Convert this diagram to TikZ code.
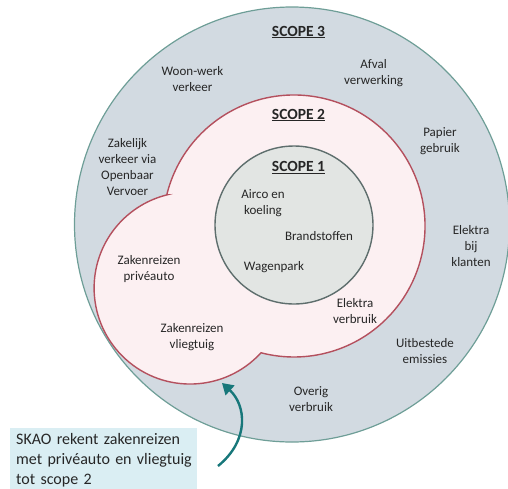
\documentclass[tikz,border=0pt]{standalone}
\usepackage{fontspec}
\setmainfont{Carlito}
\usetikzlibrary{arrows.meta}
\definecolor{outerfill}{HTML}{D2DAE1}
\definecolor{outerline}{HTML}{6E9E97}
\definecolor{midfill}{HTML}{FCF0F2}
\definecolor{midline}{HTML}{B4505E}
\definecolor{innerfill}{HTML}{E2E5E3}
\definecolor{innerline}{HTML}{5E6E6D}
\definecolor{boxfill}{HTML}{DAEEF3}
\definecolor{arrowteal}{HTML}{17777A}
\tikzset{
  lbl/.style={font=\fontsize{13}{16}\selectfont, align=center, inner sep=0pt, text=black!85},
  scopetitle/.style={font=\fontsize{15.5}{18}\selectfont\bfseries, inner sep=0pt, anchor=base, text=black!85},
  notebox/.style={fill=boxfill, draw=none, anchor=north west, inner xsep=6.5pt, inner ysep=0pt,
    text width=174.5pt, minimum height=64pt, align=left,
    font=\fontsize{16}{20}\selectfont, text=black!85},
}
\begin{document}
\begin{tikzpicture}[x=1pt, y=-1pt]
\useasboundingbox (0,0) rectangle (508,488);
% scope 3
\draw[fill=outerfill, draw=outerline, line width=1.2pt] (292,224.5) circle[radius=217.5];
% scope 2 (union of two circles)
\draw[fill=midfill, draw=midline, line width=1.4pt]
  (294,226) ++(193.74:131) arc[start angle=193.74, end angle=464.6, radius=131]
  arc[start angle=42.4, end angle=256, radius=96] -- cycle;
% scope 1
\draw[fill=innerfill, draw=innerline, line width=1.4pt] (294,225) circle[radius=79];
% titles
\node[scopetitle] (s3) at (298.5,36) {\underline{SCOPE 3}};
\node[scopetitle] (s2) at (298.5,119) {\underline{SCOPE 2}};
\node[scopetitle] (s1) at (298.5,171.5) {\underline{SCOPE 1}};
% scope 3 labels
\node[lbl] (woon) at (192.5,79) {Woon-werk\\verkeer};
\node[lbl] (afval) at (373.5,73.5) {Afval\\verwerking};
\node[lbl] (papier) at (440,141) {Papier\\gebruik};
\node[lbl] (zakelijk) at (127.5,167) {Zakelijk\\verkeer via\\Openbaar\\Vervoer};
\node[lbl] (klanten) at (471,246) {Elektra\\bij\\klanten};
\node[lbl] (uitbesteed) at (425,351.5) {Uitbestede\\emissies};
\node[lbl] (overig) at (311,399) {Overig\\verbruik};
% scope 2 labels
\node[lbl] (prive) at (149,269.5) {Zakenreizen\\privéauto};
\node[lbl] (vlieg) at (192,337) {Zakenreizen\\vliegtuig};
\node[lbl] (elektra) at (355,311) {Elektra\\verbruik};
% scope 1 labels
\node[lbl] (airco) at (263,203) {Airco en\\koeling};
\node[lbl] (brand) at (319,236) {Brandstoffen};
\node[lbl] (wagen) at (274,267) {Wagenpark};
% note box
\node[notebox] (note) at (9.5,428) {\mbox{SKAO rekent zakenreizen}\\\mbox{met privéauto en vliegtuig}\\\mbox{tot scope 2}};
\coordinate (tail) at (218,466);
\coordinate (tip) at (222,383);
\draw[arrowteal, line width=2.4pt, -{Triangle[length=11pt,width=13pt]}]
  (tail) .. controls (250,440) and (246,405) .. (tip);
\end{tikzpicture}
\end{document}
